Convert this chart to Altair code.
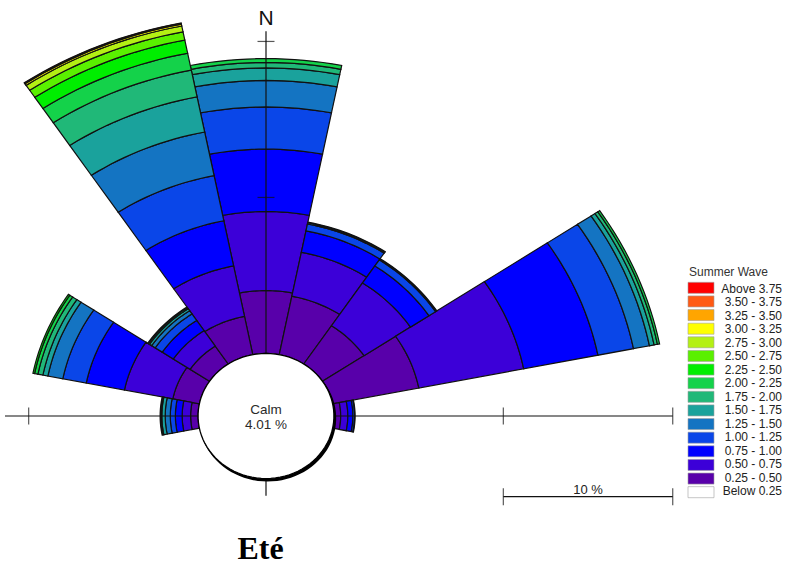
import altair as alt
import pandas as pd

# ---------------------------------------------------------------- data
DIRECTIONS = ["N", "NNE", "NE", "ENE", "E", "ESE", "SE", "SSE",
              "S", "SSW", "SW", "WSW", "W", "WNW", "NW", "NNW"]

# wave-height classes (m), lowest first
CLASSES = ["Below 0.25", "0.25 - 0.50", "0.50 - 0.75", "0.75 - 1.00",
           "1.00 - 1.25", "1.25 - 1.50", "1.50 - 1.75", "1.75 - 2.00",
           "2.00 - 2.25", "2.25 - 2.50", "2.50 - 2.75", "2.75 - 3.00",
           "3.00 - 3.25", "3.25 - 3.50", "3.50 - 3.75", "Above 3.75"]
COLORS = ["#ffffff", "#5800aa", "#3c00d8", "#0000ff",
          "#0a46e8", "#1474c2", "#1aa29c", "#20b878",
          "#14d24a", "#00ee00", "#5af000", "#b4f014",
          "#ffff00", "#ffa500", "#ff5a14", "#ff0000"]

CALM_PCT = 4.01
RING_TICKS = [10, 20]
SCALE_BAR_PCT = 10
LEGEND_TITLE = "Summer Wave"
TITLE = "Eté"

# frequency (%) per direction, N .. NNW, for each class from 0.25 m up
h_025_050 = [4.03, 3.82, 2.95, 5.19, 0.40, 0, 0, 0, 0, 0, 0, 0, 0.44, 1.60, 1.38, 2.50]
h_050_075 = [5.07, 2.87, 3.30, 6.31, 0.42, 0, 0, 0, 0, 0, 0, 0, 0.50, 2.91, 1.19, 3.30]
h_075_100 = [4.00, 1.40, 1.31, 4.47, 0.30, 0, 0, 0, 0, 0, 0, 0, 0.40, 2.30, 0.79, 2.95]
h_100_125 = [2.70, 0.45, 0.47, 2.14, 0.10, 0, 0, 0, 0, 0, 0, 0, 0.30, 1.41, 0.50, 2.95]
h_125_150 = [1.70, 0.08, 0.06, 0.96, 0.03, 0, 0, 0, 0, 0, 0, 0, 0.30, 0.90, 0.25, 2.85]
h_150_175 = [0.80, 0.04, 0.03, 0.28, 0, 0, 0, 0, 0, 0, 0, 0, 0.20, 0.30, 0.15, 2.30]
h_175_200 = [0.35, 0, 0, 0.20, 0, 0, 0, 0, 0, 0, 0, 0, 0.06, 0.30, 0.08, 1.75]
h_200_225 = [0.25, 0, 0, 0.13, 0, 0, 0, 0, 0, 0, 0, 0, 0.04, 0.20, 0.05, 1.10]
h_225_250 = [0, 0, 0, 0, 0, 0, 0, 0, 0, 0, 0, 0, 0, 0.10, 0, 0.86]
h_250_275 = [0, 0, 0, 0, 0, 0, 0, 0, 0, 0, 0, 0, 0, 0, 0, 0.54]
h_275_300 = [0, 0, 0, 0, 0, 0, 0, 0, 0, 0, 0, 0, 0, 0, 0, 0.38]
h_300_325 = [0, 0, 0, 0, 0, 0, 0, 0, 0, 0, 0, 0, 0, 0, 0, 0.12]
h_325_350 = [0, 0, 0, 0, 0, 0, 0, 0, 0, 0, 0, 0, 0, 0, 0, 0.05]
h_350_375 = [0, 0, 0, 0, 0, 0, 0, 0, 0, 0, 0, 0, 0, 0, 0, 0.03]

SERIES = [h_025_050, h_050_075, h_075_100, h_100_125, h_125_150, h_150_175,
          h_175_200, h_200_225, h_225_250, h_250_275, h_275_300, h_300_325,
          h_325_350, h_350_375]

rows = []
for k, (cls, vals) in enumerate(zip(CLASSES[1:], SERIES), start=1):
    for i, (d, v) in enumerate(zip(DIRECTIONS, vals)):
        if v > 0:
            rows.append({"dir": d, "deg": i * 22.5, "cls": cls, "k": k, "pct": v})
rose_df = pd.DataFrame(rows)

# ---------------------------------------------------------------- layout
W, H = 788, 565
CX, CY = 266, 416          # pixel position of the rose centre
PX_X, PX_Y = 16.94, 15.6   # pixels per percent, horizontal / vertical
SECTOR = 22.5
ARC_PTS = 17

xs = alt.Scale(domain=[-CX / PX_X, (W - CX) / PX_X], range=[0, W], nice=False, zero=False)
ys = alt.Scale(domain=[-(H - CY) / PX_Y, CY / PX_Y], range=[H, 0], nice=False, zero=False)
fill_scale = alt.Scale(domain=CLASSES, range=COLORS)
SANS = "Liberation Sans"
INK = "#111111"


def X(f):
    return alt.X(f, scale=xs, axis=None)


def Y(f):
    return alt.Y(f, scale=ys, axis=None)


# stacked petals: each class band is a closed annular sector
petals = (
    alt.Chart(rose_df)
    .transform_window(cum="sum(pct)", groupby=["dir"], sort=[alt.SortField("k", order="ascending")])
    .transform_calculate(r1=f"{CALM_PCT} + datum.cum")
    .transform_calculate(r0="datum.r1 - datum.pct")
    .transform_calculate(v=f"sequence(0, {2 * ARC_PTS})")
    .transform_flatten(["v"])
    .transform_calculate(t=f"datum.v < {ARC_PTS} ? datum.v / {ARC_PTS - 1} : ({2 * ARC_PTS - 1} - datum.v) / {ARC_PTS - 1}")
    .transform_calculate(r=f"datum.v < {ARC_PTS} ? datum.r1 : datum.r0")
    .transform_calculate(a=f"(datum.deg - {SECTOR / 2} + {SECTOR} * datum.t) * PI / 180")
    .transform_calculate(px="datum.r * sin(datum.a)", py="datum.r * cos(datum.a)")
    .mark_line(interpolate="linear-closed", stroke=INK, strokeWidth=1.2)
    .encode(
        x=X("px:Q"), y=Y("py:Q"), order="v:Q",
        detail=["dir:N", "cls:N"],
        fill=alt.Fill("cls:N", scale=fill_scale, legend=None),
    )
)

# compass axes through the centre
axes_df = pd.DataFrame({
    "x0": [-(CALM_PCT + RING_TICKS[0]) - 1.4, 0],
    "x1": [CALM_PCT + RING_TICKS[-1], 0],
    "y0": [0, -(CALM_PCT + 1.1)],
    "y1": [0, CALM_PCT + RING_TICKS[-1] + 0.65],
})
axes = alt.Chart(axes_df).mark_rule(color=INK, strokeWidth=1.2).encode(
    x=X("x0:Q"), x2="x1:Q", y=Y("y0:Q"), y2="y1:Q")

htick_df = pd.DataFrame({
    "x": [CALM_PCT + t for t in RING_TICKS] + [-(CALM_PCT + t) for t in RING_TICKS],
    "y": [0] * (2 * len(RING_TICKS)),
})
hticks = alt.Chart(htick_df).mark_tick(orient="vertical", size=17, thickness=1.2, color=INK).encode(
    x=X("x:Q"), y=Y("y:Q"))

vtick_df = pd.DataFrame({"x": [0] * len(RING_TICKS), "y": [CALM_PCT + t for t in RING_TICKS]})
vticks = alt.Chart(vtick_df).mark_tick(orient="horizontal", size=17, thickness=1.2, color=INK).encode(
    x=X("x:Q"), y=Y("y:Q"))


# calm circle, radius equal to the calm percentage, with a dark rim below
def calm_disc():
    return (
        alt.Chart(pd.DataFrame({"calm": [CALM_PCT]}))
        .transform_calculate(v="sequence(0, 90)")
        .transform_flatten(["v"])
        .transform_calculate(a="datum.v * 4 * PI / 180")
        .transform_calculate(px="datum.calm * sin(datum.a)", py="datum.calm * cos(datum.a)")
    )


calm_shadow = calm_disc().mark_line(
    interpolate="linear-closed", stroke="#000000", strokeWidth=1.5, xOffset=1.5, yOffset=2.2
).encode(x=X("px:Q"), y=Y("py:Q"), order="v:Q", fill=alt.value("#000000"))

calm = calm_disc().mark_line(
    interpolate="linear-closed", stroke="#000000", strokeWidth=1.3
).encode(x=X("px:Q"), y=Y("py:Q"), order="v:Q", fill=alt.value("white"))

calm_text = alt.Chart(pd.DataFrame({
    "x": [0, 0], "y": [0.13, -0.85], "t": ["Calm", f"{CALM_PCT:.2f} %"]
})).mark_text(font=SANS, fontSize=13.5, color="#2a2a2a", baseline="alphabetic").encode(
    x=X("x:Q"), y=Y("y:Q"), text="t:N")

north = alt.Chart(pd.DataFrame({"x": [0], "y": [25.06], "t": ["N"]})).mark_text(
    font=SANS, fontSize=21, color=INK, baseline="alphabetic").encode(
    x=X("x:Q"), y=Y("y:Q"), text="t:N")

# scale bar under the east axis
BAR_Y = -5.17
bar_x0 = CALM_PCT + RING_TICKS[0]
bar_df = pd.DataFrame({"x0": [bar_x0], "x1": [bar_x0 + SCALE_BAR_PCT], "y": [BAR_Y]})
bar = alt.Chart(bar_df).mark_rule(color=INK, strokeWidth=1.2).encode(
    x=X("x0:Q"), x2="x1:Q", y=Y("y:Q"))
bar_ticks = alt.Chart(pd.DataFrame({"x": [bar_x0, bar_x0 + SCALE_BAR_PCT], "y": [BAR_Y, BAR_Y]})).mark_tick(
    orient="vertical", size=17, thickness=1.2, color=INK).encode(x=X("x:Q"), y=Y("y:Q"))
bar_text = alt.Chart(pd.DataFrame({
    "x": [bar_x0 + SCALE_BAR_PCT / 2], "y": [BAR_Y + 0.15], "t": [f"{SCALE_BAR_PCT} %"]
})).mark_text(font=SANS, fontSize=13, color="#222222", baseline="alphabetic").encode(
    x=X("x:Q"), y=Y("y:Q"), text="t:N")

title = alt.Chart(pd.DataFrame({"x": [-0.32], "y": [-9.19], "t": [TITLE]})).mark_text(
    font="Liberation Serif", fontSize=32, fontWeight="bold", color="#000000", baseline="alphabetic").encode(
    x=X("x:Q"), y=Y("y:Q"), text="t:N")

# legend, highest class on top
leg_df = pd.DataFrame({"cls": CLASSES[::-1]})
ly = alt.Scale(domain=CLASSES[::-1], range=[282.3, 497.7], paddingInner=0.19, paddingOuter=0)
swatches = alt.Chart(leg_df).mark_rect(stroke="#a0a0a0", strokeWidth=0.6).encode(
    x=alt.value(688), x2=alt.value(714),
    y=alt.Y("cls:N", scale=ly, axis=None),
    fill=alt.Fill("cls:N", scale=fill_scale, legend=None),
)
leg_labels = alt.Chart(leg_df).mark_text(
    font=SANS, fontSize=12, color="#222222", align="right", baseline="middle").encode(
    x=alt.value(782), y=alt.Y("cls:N", scale=ly, axis=None), text="cls:N")
leg_title = alt.Chart(pd.DataFrame({"t": [LEGEND_TITLE]})).mark_text(
    font=SANS, fontSize=12, color="#333333", align="left", baseline="middle").encode(
    x=alt.value(689), y=alt.value(271.7), text="t:N")

chart = (
    alt.layer(petals, axes, hticks, vticks, calm_shadow, calm, calm_text, north,
              bar, bar_ticks, bar_text, title, swatches, leg_labels, leg_title)
    .resolve_scale(y="independent")
    .properties(width=W, height=H, padding=0, autosize=alt.AutoSizeParams(type="none"))
    .configure_view(stroke=None)
)

chart.save("out.html", embed_options={"renderer": "svg", "actions": False})
